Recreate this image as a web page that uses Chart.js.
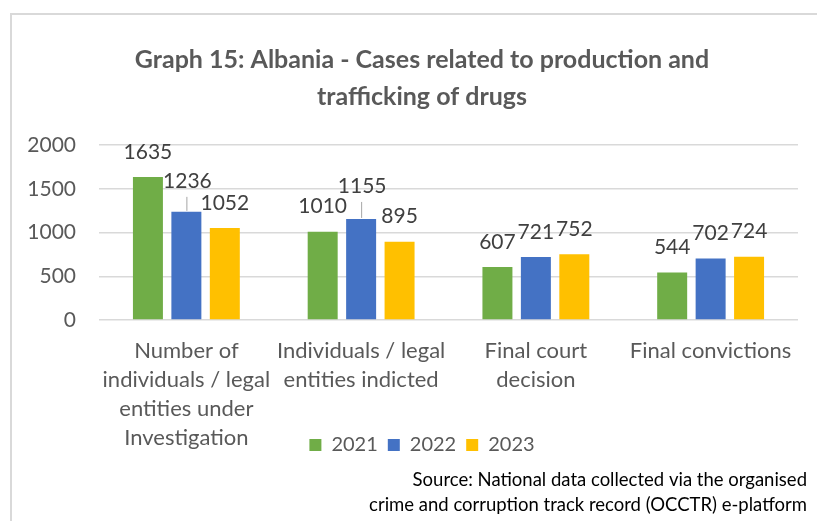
<!DOCTYPE html>
<html>
<head>
<meta charset="utf-8">
<script src="https://cdn.jsdelivr.net/npm/chart.js@4.4.1/dist/chart.umd.min.js"></script>
<style>
  html, body { margin: 0; padding: 0; background: #fff; }
  #wrap { position: relative; width: 817px; height: 521px; }
</style>
</head>
<body>
<div id="wrap"><canvas id="chart" width="817" height="521"></canvas></div>
<script>
// ================= DATA =================
const categories = [
  ["Number of", "individuals / legal", "entities under", "Investigation"],
  ["Individuals / legal", "entities indicted"],
  ["Final court", "decision"],
  ["Final convictions"]
];
const years = ["2021", "2022", "2023"];
const cases2021 = [1635, 1010, 607, 544];
const cases2022 = [1236, 1155, 721, 702];
const cases2023 = [1052, 895, 752, 724];
const yTicks = [0, 500, 1000, 1500, 2000];

const titleLines = ["Graph 15: Albania - Cases related to production and", "trafficking of drugs"];
const sourceLines = [
  "Source: National data collected via the organised",
  "crime and corruption track record (OCCTR) e-platform"
];

const FONT = "Lato, 'Liberation Sans', sans-serif";

// ================= PLUGINS =================
// light grey frame like the office chart box
const framePlugin = {
  id: "frame",
  beforeDraw(chart) {
    const ctx = chart.ctx;
    ctx.save();
    ctx.fillStyle = "#fff";
    ctx.fillRect(0, 0, chart.width, chart.height);
    ctx.strokeStyle = "#d9d9d9";
    ctx.lineWidth = 2;
    ctx.strokeRect(11, 14, chart.width + 20, chart.height + 20);
    ctx.restore();
  },
  // let the axis labels spill out of their boxes (no clipping)
  afterLayout(chart) {
    chart.scales.y.left = 0;
    chart.scales.x.bottom = chart.height;
  }
};

// value labels above the bars (two of them lifted with a leader line)
const leaders = { "1-0": 31, "1-1": 33 };
const valueLabels = {
  id: "valueLabels",
  afterDatasetsDraw(chart) {
    const ctx = chart.ctx;
    ctx.save();
    ctx.font = "21px " + FONT;
    ctx.fillStyle = "#404040";
    ctx.textAlign = "center";
    ctx.textBaseline = "middle";
    chart.data.datasets.forEach((ds, di) => {
      chart.getDatasetMeta(di).data.forEach((bar, i) => {
        const lift = leaders[di + "-" + i] || 25;
        const y = bar.y - lift;
        ctx.fillText(ds.data[i], bar.x + (leaders[di + "-" + i] ? 1 : 0), y);
        if (leaders[di + "-" + i]) {
          ctx.strokeStyle = "#a6a6a6";
          ctx.lineWidth = 1;
          ctx.beginPath();
          ctx.moveTo(bar.x + 0.5, y + 16);
          ctx.lineTo(bar.x + 0.5, bar.y - 1);
          ctx.stroke();
        }
      });
    });
    ctx.restore();
  }
};

// source note, bottom right
const sourceNote = {
  id: "sourceNote",
  afterDraw(chart) {
    const ctx = chart.ctx;
    ctx.save();
    ctx.font = "18.5px " + FONT;
    ctx.fillStyle = "#000";
    ctx.textAlign = "right";
    ctx.textBaseline = "middle";
    sourceLines.forEach((t, i) => ctx.fillText(t, chart.width - 10, 480 + i * 25));
    ctx.restore();
  }
};

// ================= CHART =================
new Chart(document.getElementById("chart"), {
  type: "bar",
  data: {
    labels: categories,
    datasets: [
      { label: years[0], data: cases2021, backgroundColor: "#70ad47" },
      { label: years[1], data: cases2022, backgroundColor: "#4472c4" },
      { label: years[2], data: cases2023, backgroundColor: "#ffc000" }
    ]
  },
  options: {
    responsive: false,
    animation: false,
    events: [],
    categoryPercentage: 0.66,
    barPercentage: 0.78,
    layout: { padding: { left: 46, right: 19, top: 0, bottom: 56 } },
    plugins: {
      title: {
        display: true,
        text: titleLines,
        color: "#595959",
        font: { family: FONT, size: 25, weight: "bold", lineHeight: 1.48 },
        padding: { top: 41, bottom: 30 }
      },
      legend: {
        position: "bottom",
        labels: {
          color: "#595959",
          font: { family: FONT, size: 20 },
          boxWidth: 12,
          boxHeight: 12,
          padding: 10
        }
      },
      tooltip: { enabled: false }
    },
    scales: {
      x: {
        grid: { display: false },
        border: { display: false },
        ticks: {
          color: "#595959",
          font: { family: FONT, size: 22, lineHeight: 1.32 },
          padding: 8,
          maxRotation: 0,
          autoSkip: false
        },
        afterFit(scale) { scale.height = 105; }
      },
      y: {
        min: 0,
        max: 2000,
        afterBuildTicks(scale) { scale.ticks = yTicks.map(v => ({ value: v })); },
        grid: { color: "#d9d9d9", lineWidth: 1.5, drawTicks: false },
        border: { display: false },
        ticks: {
          color: "#595959",
          font: { family: FONT, size: 21 },
          padding: 23,
          callback: v => String(v)
        },
        afterFit(scale) { scale.width = 53; }
      }
    }
  },
  plugins: [framePlugin, valueLabels, sourceNote]
});
</script>
</body>
</html>
